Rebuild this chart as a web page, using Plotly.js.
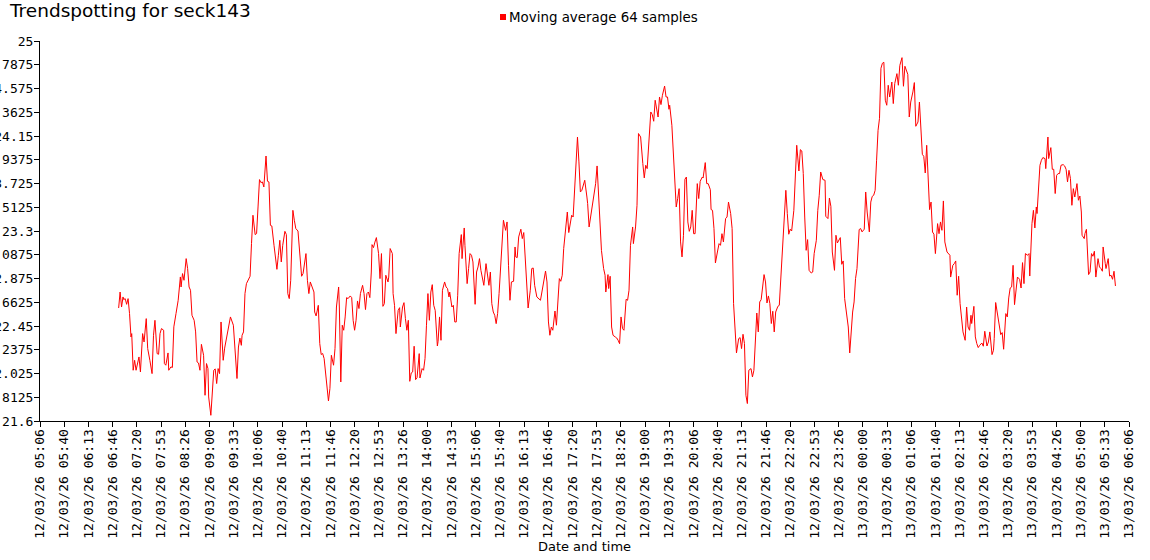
<!DOCTYPE html>
<html><head><meta charset="utf-8">
<script src="https://cdn.plot.ly/plotly-3.0.1.min.js"></script>
<style>html,body{margin:0;padding:0;background:#fff}</style>
</head><body><div id="chart" style="width:1150px;height:560px"></div>
<script>
const seriesName = "Moving average 64 samples";
const firstDay = "2026-03-12";
const secondDay = "2026-03-13";
const times = [
"06:55","06:57","06:59","07:01","07:02","07:04","07:06","07:08","07:10","07:12","07:13","07:15","07:17","07:19","07:23","07:25","07:28","07:30","07:33","07:35","07:38","07:41","07:43","07:45","07:48","07:50","07:52","07:54","07:57","07:58","08:00","08:03","08:04","08:07","08:09","08:11","08:14","08:17","08:20","08:21","08:23","08:25","08:28","08:30","08:32","08:34","08:36","08:39","08:41","08:43","08:45","08:47","08:49","08:52","08:54","08:56","08:58","08:59","09:02","09:04","09:06","09:08","09:10","09:12","09:14","09:16","09:19",
"09:21","09:25","09:29","09:33","09:35","09:38","09:40","09:42","09:44","09:45","09:47","09:49","09:51","09:54","09:56","09:58","10:00","10:03","10:05","10:07","10:09","10:11","10:13","10:15","10:18","10:20","10:22","10:24","10:26","10:29","10:31","10:33","10:35","10:37","10:39","10:41","10:44","10:46","10:48","10:50","10:52","10:55","10:57","10:59","11:02","11:03","11:05","11:07","11:09","11:12","11:13","11:15","11:17","11:19","11:21","11:24","11:25","11:27","11:30","11:32","11:34","11:36","11:38",
"11:42","11:44","11:46","11:48","11:51","11:53","11:55","11:58","11:59","12:01","12:03","12:05","12:07","12:09","12:11","12:14","12:16","12:18","12:20","12:22","12:24","12:26","12:28","12:31","12:33","12:35","12:37","12:39","12:41","12:43","12:44","12:46","12:48","12:50","12:53","12:55","12:57","12:59","13:01","13:03","13:06","13:07","13:09","13:12","13:13","13:15","13:17","13:20","13:22","13:23","13:26","13:28","13:30","13:32","13:34","13:36","13:38","13:40","13:42","13:44","13:46",
"13:49","13:50","13:53","13:55","13:57","13:59","14:01","14:03","14:05","14:07","14:09","14:11","14:14","14:15","14:17","14:19","14:21","14:24","14:26","14:28","14:30","14:31","14:34","14:36","14:38","14:40","14:42","14:44","14:47","14:48","14:51","14:52","14:55","14:57","14:59","15:01","15:03","15:06","15:08","15:10","15:12","15:14","15:16","15:18","15:21","15:23","15:25","15:27","15:29","15:31","15:33","15:35","15:37","15:39","15:41","15:43","15:45","15:48","15:50","15:52",
"15:54","15:56","15:59","16:01","16:02","16:04","16:06","16:09","16:11","16:13","16:16","16:17","16:19","16:22","16:24","16:26","16:28","16:31","16:34","16:36","16:38","16:40","16:43","16:45","16:47","16:49","16:51","16:53","16:56","16:58","17:00","17:02","17:04","17:06","17:08","17:11","17:13","17:15","17:17","17:19","17:21","17:24","17:25","17:27","17:29","17:31","17:33","17:36","17:37","17:40","17:41","17:43","17:46","17:47","17:50","17:52","17:54","17:56","17:58","18:00","18:03","18:05","18:06","18:09","18:10",
"18:12","18:14","18:16","18:19","18:21","18:23","18:25","18:27","18:29","18:31","18:34","18:36","18:38","18:40","18:43","18:44","18:47","18:49","18:51","18:54","18:55","18:57","18:59","19:01","19:03","19:06","19:08","19:10","19:12","19:14","19:16","19:18","19:20","19:22","19:24","19:27","19:29","19:31","19:33","19:34","19:37","19:39","19:41","19:43","19:45","19:47","19:49","19:51","19:53","19:55","19:57","19:59","20:01","20:03","20:05","20:07","20:09","20:12","20:14","20:16","20:19","20:20",
"20:23","20:25","20:27","20:30","20:31","20:33","20:35","20:37","20:40","20:42","20:44","20:46","20:48","20:51","20:53","20:55","20:58","21:00","21:02","21:04","21:06","21:09","21:11","21:13","21:15","21:17","21:19","21:21","21:23","21:26","21:28","21:30","21:32","21:34","21:36","21:38","21:40","21:42","21:44","21:46","21:48","21:50","21:52","21:54","21:56","21:58","22:00","22:03","22:05","22:06","22:08","22:10","22:11","22:14","22:16","22:18","22:20","22:22","22:25","22:27",
"22:29","22:32","22:34","22:36","22:38","22:40","22:42","22:44","22:46","22:49","22:51","22:53","22:56","22:58","23:00","23:02","23:05","23:08","23:09","23:12","23:14","23:16","23:18","23:21","23:23","23:25","23:27","23:29","23:31","23:33","23:35","23:38","23:40","23:42","23:44","23:46","23:48","23:50","23:52","23:55","23:57","23:59","00:02","00:04","00:06","00:09","00:11","00:13","00:15","00:17","00:19","00:21",
"00:23","00:25","00:27","00:29","00:31","00:33","00:35",
"00:37","00:40","00:42","00:44","00:47","00:49","00:51","00:54","00:56","00:58","01:00","01:02","01:04","01:06","01:09","01:11","01:13","01:16","01:18","01:20","01:22","01:24","01:26","01:28","01:30","01:32","01:34","01:36","01:38","01:40","01:43","01:45","01:47","01:49","01:51","01:53","01:56","01:58","02:00","02:01","02:04","02:06","02:08","02:10","02:12","02:14","02:16","02:18","02:21","02:23","02:25","02:27","02:29","02:30","02:33","02:35","02:37","02:39","02:41","02:44","02:46","02:48",
"02:51","02:53","02:55","02:58","03:00","03:01","03:03","03:06","03:08","03:10","03:12","03:14","03:17","03:19","03:21","03:23","03:25","03:27","03:29","03:31","03:33","03:36","03:38","03:40","03:42","03:44","03:47","03:49","03:50","03:53","03:55","03:57","03:59","04:00","04:03","04:04","04:06","04:08","04:11","04:12","04:15","04:16","04:19","04:21","04:23","04:25","04:27","04:29","04:31","04:33","04:36","04:38","04:40","04:42","04:44","04:46","04:48","04:50","04:52","04:55","04:57","04:59","05:01","05:02","05:05","05:06","05:08","05:11","05:13","05:15","05:17","05:19","05:21","05:24","05:26","05:28","05:30","05:31","05:34","05:35","05:38","05:40","05:42","05:44","05:46","05:48"
];
const values = [
22.611,22.754,22.620,22.710,22.686,22.695,22.644,22.695,22.561,22.352,22.382,22.054,22.143,22.054,22.173,22.039,22.382,22.307,22.516,22.248,22.143,22.024,22.367,22.501,22.203,22.197,22.382,22.427,22.412,22.114,22.099,22.209,22.054,22.084,22.079,22.442,22.561,22.680,22.889,22.799,22.919,22.859,23.053,22.964,22.799,22.770,22.546,22.501,22.397,22.128,22.119,22.054,22.286,22.188,21.830,22.114,22.069,21.815,21.651,21.845,22.054,22.066,21.935,22.069,22.024,22.486,22.143,
22.252,22.382,22.531,22.457,22.262,21.980,22.262,22.342,22.277,22.367,22.397,22.740,22.829,22.868,22.895,23.188,23.441,23.268,23.277,23.515,23.760,23.733,23.739,23.694,23.971,23.745,23.739,23.351,23.345,23.172,23.038,22.957,23.083,23.217,23.023,23.172,23.297,23.268,22.740,22.695,22.859,23.485,23.396,23.322,23.300,23.202,23.008,22.895,22.919,23.077,23.098,22.859,22.740,22.844,22.799,22.754,22.575,22.540,22.635,22.293,22.195,22.204,22.159,
21.875,21.779,21.890,22.188,22.099,22.248,22.620,22.799,22.620,21.949,22.457,22.412,22.531,22.704,22.695,22.719,22.704,22.501,22.412,22.501,22.674,22.606,22.740,22.814,22.740,22.597,22.740,22.754,22.704,22.933,23.178,23.151,23.201,23.241,23.098,22.874,23.098,22.626,22.650,22.904,22.844,22.888,23.143,23.098,22.740,22.635,22.382,22.590,22.614,22.441,22.620,22.659,22.516,22.412,22.501,21.955,22.030,22.039,22.269,21.970,21.988,
22.203,21.985,22.069,22.054,22.159,22.457,22.740,22.501,22.754,22.820,22.635,22.590,22.271,22.313,22.531,22.322,22.770,22.844,22.799,22.785,22.710,22.754,22.620,22.635,22.486,22.486,22.725,23.098,23.268,23.053,23.327,23.172,22.829,22.964,23.098,23.083,23.023,22.644,22.933,22.978,23.053,22.948,22.859,22.814,23.008,22.919,22.814,22.933,22.650,22.575,22.546,22.471,22.561,22.740,22.964,23.187,23.396,23.306,23.381,22.993,
22.680,22.844,22.850,23.157,23.068,23.062,23.247,23.316,23.232,23.286,22.904,22.898,22.611,22.770,22.964,22.969,22.814,22.710,22.689,22.680,22.754,22.844,22.942,22.844,22.486,22.367,22.441,22.412,22.584,22.457,22.695,22.874,22.850,22.904,23.143,23.366,23.470,23.286,23.366,23.441,23.425,23.754,23.962,24.141,23.918,23.649,23.664,23.724,23.754,23.604,23.545,23.336,23.465,23.465,23.635,23.724,23.882,23.604,23.336,23.127,22.964,22.904,22.754,22.910,22.785,
22.895,22.441,22.367,22.352,22.343,22.322,22.292,22.531,22.427,22.412,22.689,22.680,22.770,23.172,23.336,23.187,23.336,23.530,24.172,24.141,24.038,23.903,23.775,23.888,23.858,24.112,24.365,24.342,24.282,24.470,24.395,24.320,24.499,24.431,24.514,24.597,24.499,24.499,24.389,24.425,24.246,24.022,23.798,23.515,23.590,23.679,23.202,23.068,23.262,23.763,23.783,23.381,23.297,23.336,23.485,23.276,23.276,23.724,23.590,23.745,23.783,23.774,
23.912,23.724,23.724,23.670,23.492,23.485,23.322,23.014,23.121,23.187,23.172,23.276,23.202,23.411,23.425,23.559,23.456,23.322,22.650,22.382,22.209,22.337,22.346,22.248,22.376,22.293,21.830,21.756,22.054,22.069,21.994,22.054,22.382,22.566,22.397,22.665,22.686,22.775,22.910,22.844,22.656,22.719,22.650,22.472,22.582,22.397,22.575,22.626,22.635,22.754,22.978,23.306,23.411,23.664,23.456,23.271,23.316,23.300,23.485,23.754,
24.067,23.837,24.028,24.016,23.814,23.425,23.127,23.223,22.948,22.924,22.933,23.098,23.217,23.485,23.620,23.828,23.760,23.754,23.432,23.411,23.595,23.521,23.112,22.948,23.262,23.193,23.223,23.241,23.002,23.032,22.695,22.516,22.441,22.209,22.412,22.575,22.665,22.874,22.964,23.313,23.322,23.292,23.316,23.649,23.470,23.292,23.559,23.610,23.620,23.664,23.933,24.201,
24.308,24.756,24.801,24.810,24.470,24.425,24.604,
24.499,24.633,24.440,24.619,24.708,24.604,24.782,24.851,24.595,24.774,24.732,24.702,24.320,24.454,24.544,24.628,24.237,24.275,24.454,24.186,23.986,23.968,23.819,24.067,23.709,23.491,23.559,23.291,23.271,23.098,23.366,23.276,23.381,23.306,23.569,23.202,23.112,23.092,23.083,22.888,22.993,23.008,23.032,22.725,22.895,22.650,22.501,22.397,22.322,22.620,22.441,22.412,22.546,22.472,22.626,22.352,22.293,22.257,22.277,22.298,22.269,22.403,
22.271,22.307,22.397,22.194,22.233,22.337,22.660,22.531,22.486,22.373,22.391,22.242,22.561,22.531,22.701,22.790,22.799,22.993,22.641,22.754,22.888,22.868,22.790,23.017,22.829,23.098,23.083,23.098,22.897,23.366,23.485,23.327,23.515,23.456,23.724,23.888,23.933,23.957,23.948,23.858,24.141,23.948,24.046,23.852,23.852,23.635,23.798,23.814,23.814,23.888,23.894,23.882,23.852,23.739,23.843,23.769,23.530,23.679,23.604,23.724,23.575,23.613,23.470,23.262,23.232,23.277,23.315,22.910,22.933,23.098,23.074,23.119,22.888,23.053,22.978,22.964,22.940,23.157,23.008,22.964,23.053,22.897,22.904,22.868,22.940,22.808
];
const yTickValues = [21.6,21.8125,22.025,22.2375,22.45,22.6625,22.875,23.0875,23.3,23.5125,23.725,23.9375,24.15,24.3625,24.575,24.7875,25];
const yTickLabels = ["21.6","21.8125","22.025","22.2375","22.45","22.6625","22.875","23.0875","23.3","23.5125","23.725","23.9375","24.15","24.3625","24.575","24.7875","25"];
const xTickLabels = ["12/03/26 05:06","12/03/26 05:40","12/03/26 06:13","12/03/26 06:46","12/03/26 07:20","12/03/26 07:53","12/03/26 08:26","12/03/26 09:00","12/03/26 09:33","12/03/26 10:06","12/03/26 10:40","12/03/26 11:13","12/03/26 11:46","12/03/26 12:20","12/03/26 12:53","12/03/26 13:26","12/03/26 14:00","12/03/26 14:33","12/03/26 15:06","12/03/26 15:40","12/03/26 16:13","12/03/26 16:46","12/03/26 17:20","12/03/26 17:53","12/03/26 18:26","12/03/26 19:00","12/03/26 19:33","12/03/26 20:06","12/03/26 20:40","12/03/26 21:13","12/03/26 21:46","12/03/26 22:20","12/03/26 22:53","12/03/26 23:26","13/03/26 00:00","13/03/26 00:33","13/03/26 01:06","13/03/26 01:40","13/03/26 02:13","13/03/26 02:46","13/03/26 03:20","13/03/26 03:53","13/03/26 04:26","13/03/26 05:00","13/03/26 05:33","13/03/26 06:06"];
const axisStart = "2026-03-12 05:06:40";
const axisEnd = "2026-03-13 06:06:40";
const tickStepSeconds = 2000;

// build full timestamps (day rolls over when the clock goes back)
let day = firstDay, prev = -1;
const xs = times.map(t => {
  const [h, m] = t.split(':').map(Number);
  const mins = h * 60 + m;
  if (mins < prev) day = secondDay;
  prev = mins;
  return day + ' ' + t;
});
function fmt(ms) { return new Date(ms).toISOString().slice(0, 19).replace('T', ' '); }
const t0 = Date.parse(axisStart.replace(' ', 'T') + 'Z');
const xTickVals = xTickLabels.map((_, k) => fmt(t0 + k * tickStepSeconds * 1000));

const W = 1150, H = 560, L = 40, R = 21, T = 41, B = 139;
const pw = W - L - R, ph = H - T - B;
const px = v => (v - L) / pw, py = v => 1 + (T - v) / ph;

const trace = {
  x: xs, y: values, type: 'scatter', mode: 'lines', name: seriesName,
  line: { color: '#ff0000', width: 1 }, hoverinfo: 'x+y'
};
const axisFont = { family: 'DejaVu Sans Mono, monospace', size: 13, color: '#000' };
const layout = {
  width: W, height: H,
  margin: { l: L, r: R, t: T, b: B, pad: 0 },
  paper_bgcolor: '#fff', plot_bgcolor: '#fff',
  showlegend: false,
  title: { text: 'Trendspotting for seck143', font: { family: 'DejaVu Sans, sans-serif', size: 18.5, color: '#000' },
           x: 10 / W, xref: 'container', xanchor: 'left', y: 1 - 11 / H, yref: 'container', yanchor: 'middle' },
  xaxis: {
    type: 'date', range: [axisStart, axisEnd], tickmode: 'array', tickvals: xTickVals, ticktext: xTickLabels,
    tickangle: -90, ticks: 'outside', ticklen: 5, tickcolor: '#000', tickwidth: 1, ticklabelstandoff: -3,
    showline: true, linecolor: '#000', linewidth: 1, showgrid: false, zeroline: false,
    tickfont: axisFont, automargin: false,
    title: { text: 'Date and time', font: { family: 'DejaVu Sans, sans-serif', size: 13, color: '#000' }, standoff: 0 }
  },
  yaxis: {
    range: [21.6, 25], tickmode: 'array', tickvals: yTickValues, ticktext: yTickLabels,
    ticks: 'outside', ticklen: 5, tickcolor: '#000', tickwidth: 1, ticklabelstandoff: -2,
    showline: true, linecolor: '#000', linewidth: 1, showgrid: false, zeroline: false,
    tickfont: axisFont, automargin: false
  },
  annotations: [{
    text: seriesName, xref: 'paper', yref: 'paper', x: px(507), y: py(17),
    xanchor: 'left', yanchor: 'middle', showarrow: false,
    font: { family: 'DejaVu Sans, sans-serif', size: 13.4, color: '#000' }
  }],
  shapes: [{
    type: 'rect', xref: 'paper', yref: 'paper', x0: px(500), x1: px(506), y0: py(20), y1: py(14),
    fillcolor: '#ff0000', line: { width: 0 }
  }]
};
Plotly.newPlot('chart', [trace], layout, { displayModeBar: false, staticPlot: true });
</script>
</body></html>
